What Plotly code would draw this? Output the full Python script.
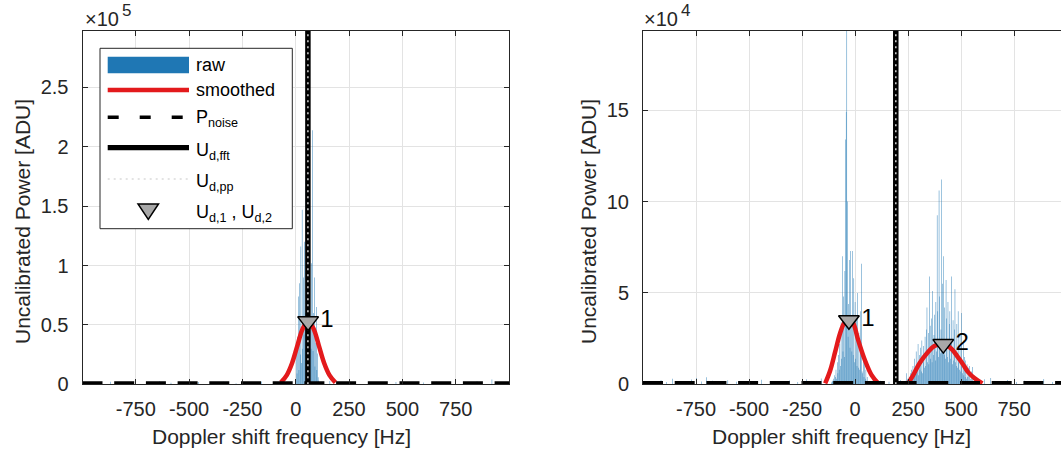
import numpy as np
import plotly.graph_objects as go

W, H = 1061, 454
FONT = "Liberation Sans, Arial, Helvetica, sans-serif"
INK = "#262626"
BLUE = "rgba(31,119,180,0.99)"
RED = "#e31a1c"
GRID = "#e3e3e3"

# ---------------- data (power values in kADU) ----------------
bin_hz = 3.0

# left spectrum: one echo near +58 Hz
left_peak_f0 = 0.0
left_peak_kadu = [4, 26, 9, 40, 74, 12, 85, 25, 116, 18, 147, 30, 90, 42, 120, 60,
                  175, 95, 140, 297.5, 110, 70, 150, 55, 30, 102, 214, 28, 60, 90,
                  15, 35, 65, 12, 26, 6, 3]
left_noise_f = [-985, -930, -870, -815, -760, -700, -640, -585, -520, -455, -400,
                -340, -280, -215, -160, -105, -60, 160, 215, 280, 340, 410, 470,
                530, 600, 660, 720, 790, 850, 920, 975]
left_noise_kadu = [1.5, 0.8, 2.2, 1.1, 1.8, 0.9, 2.5, 1.3, 0.7, 1.9, 1.2, 2.1, 0.8,
                   1.6, 2.4, 1.0, 3.0, 2.8, 1.1, 0.9, 1.7, 1.3, 2.0, 0.8, 1.5, 2.2,
                   1.0, 1.8, 2.6, 4.0, 1.2]
left_smooth_f = [-70, -42, -17, 8, 33, 58, 83, 108, 133, 158, 186]
left_smooth_kadu = [1.5, 7.8, 18, 32.8, 47, 53, 47, 32.8, 18, 7.8, 1.5]
left_pnoise_kadu = 1.0
left_ud_fft = 57.0
left_ud_pp = 57.0
left_peaks_f = [58]
left_peaks_kadu = [53]
left_peak_labels = ["1"]

# right spectrum: two echoes near -30 Hz and +415 Hz
right_peak1_f0 = -111.0
right_peak1_kadu = [1, 2, 1.5, 3, 2, 5, 4, 8, 3, 12, 6, 16, 8, 22, 10, 34, 14, 70,
                    18, 48, 15, 62, 134, 149, 193.3, 100, 26, 44, 68, 20, 73, 32,
                    18, 73, 16, 58, 12, 45, 14, 36, 10, 50, 9, 28, 8, 22, 40, 66,
                    7, 6, 18, 4, 12, 3, 8, 2, 4, 1]
right_peak2_f0 = 240.0
right_peak2_kadu = [2, 6, 1, 3, 2, 4, 3, 6, 2, 8, 3, 10, 4, 14, 5, 8, 18, 6, 9, 22,
                    5, 16, 8, 20, 7, 24, 6, 12, 21, 9, 26, 10, 30, 42, 12, 28,
                    11, 59, 32, 14, 36, 12, 51, 16, 27, 38, 13, 45, 18, 92.5, 40, 15,
                    106, 48, 17, 30, 112, 55, 19, 70, 16, 42, 14, 57, 36, 15, 45, 12,
                    33, 40, 14, 22, 59, 11, 35, 13, 30, 52, 12, 10, 33, 9, 40, 12,
                    8, 27, 7, 39, 10, 6, 24, 5, 15, 4, 13, 3, 11, 4, 9, 2, 10, 3,
                    1.5, 7, 1, 9.5, 2, 1, 4, 0.5, 2, 0.5, 0.5, 1, 0.5, 0.5]
right_noise_f = [-990, -955, -915, -890, -862, -835, -800, -770, -748, -725, -700,
                 -672, -640, -600, -560, -515, -480, -440, -395, -350, -310, -270,
                 -230, -190, -160, 85, 120, 160, 215, 225, 610, 640, 680, 720, 760,
                 800, 845, 890, 930, 965]
right_noise_kadu = [1.0, 1.6, 2.4, 1.3, 3.0, 1.8, 1.2, 2.6, 3.4, 1.5, 3.8, 2.0, 1.1,
                    2.2, 1.4, 0.9, 1.8, 2.5, 1.2, 1.6, 2.1, 1.3, 2.7, 1.7, 3.2, 2.6,
                    1.9, 1.4, 2.3, 1.1, 2.8, 3.5, 1.6, 2.4, 1.2, 2.0, 1.5, 2.9, 1.3,
                    1.8]
right_smooth1_f = [-141, -117, -94, -71, -51, -31, -11, 15, 47, 78, 109]
right_smooth1_kadu = [0.5, 7.7, 17.7, 27.8, 33.5, 35, 33.8, 24, 13, 5, 0.5]
right_smooth2_f = [250, 274, 304, 344, 374, 414, 454, 484, 507, 534, 564, 600]
right_smooth2_kadu = [0.5, 5, 11.5, 17.7, 21, 22, 19.5, 15, 11.3, 6.5, 3.3, 0.5]
right_pnoise_kadu = 0.8
right_ud_fft = 192.0
right_ud_pp = 192.0
right_peaks_f = [-29, 416]
right_peaks_kadu = [35, 22]
right_peak_labels = ["1", "2"]

x_tick_vals = [-750, -500, -250, 0, 250, 500, 750]
x_tick_text = ["-750", "-500", "-250", "0", "250", "500", "750"]
left_y_tick_vals = [0, 50e3, 100e3, 150e3, 200e3, 250e3]
left_y_tick_text = ["0", "0.5", "1", "1.5", "2", "2.5"]
right_y_tick_vals = [0, 50e3, 100e3, 150e3]
right_y_tick_text = ["0", "5", "10", "15"]

# ---------------- assemble series ----------------
def segment(f0, vals):
    return f0 + bin_hz * np.arange(len(vals)), np.asarray(vals, float)

def raw_series(segments, noise_f, noise_v):
    fs = [np.asarray(noise_f, float)]
    vs = [np.asarray(noise_v, float)]
    for f0, vals in segments:
        f, v = segment(f0, vals)
        fs.append(f)
        vs.append(v)
    f = np.concatenate(fs)
    v = np.concatenate(vs) * 1e3
    order = np.argsort(f)
    return f[order], v[order]

lf, lv = raw_series([(left_peak_f0, left_peak_kadu)], left_noise_f, left_noise_kadu)
rf, rv = raw_series([(right_peak1_f0, right_peak1_kadu), (right_peak2_f0, right_peak2_kadu)],
                    right_noise_f, right_noise_kadu)

# pixel helpers for the figure furniture
def px(x):
    return x / W

def py(y):
    return 1 - y / H

Y_DOM = [py(384.3), py(31)]
L_DOM = [px(82.5), px(509)]
R_DOM = [px(643), 1.0]

fig = go.Figure()

def add_panel(xa, ya, f, v, smooth_sets, pnoise, ud_fft, ud_pp, pk_f, pk_v, pk_lab, ymax):
    fig.add_trace(go.Bar(x=f, y=v, width=bin_hz * 0.7, marker=dict(color=BLUE, line=dict(width=0)),
                         xaxis=xa, yaxis=ya, showlegend=False))
    for sf, sv in smooth_sets:
        fig.add_trace(go.Scatter(x=sf, y=np.asarray(sv) * 1e3, mode="lines",
                                 line=dict(color=RED, width=4.5, shape="spline", smoothing=1.0),
                                 xaxis=xa, yaxis=ya, showlegend=False))
    fig.add_trace(go.Scatter(x=[-1000, 1000], y=[pnoise * 1e3] * 2, mode="lines",
                             line=dict(color="black", width=3.5, dash="20px,11.7px"),
                             xaxis=xa, yaxis=ya, showlegend=False))
    fig.add_trace(go.Scatter(x=[ud_fft, ud_fft], y=[0, ymax], mode="lines",
                             line=dict(color="black", width=5.5),
                             xaxis=xa, yaxis=ya, showlegend=False))
    fig.add_trace(go.Scatter(x=[ud_pp, ud_pp], y=[0, ymax], mode="lines",
                             line=dict(color="#c8c8c8", width=1.6, dash="2px,4px"),
                             xaxis=xa, yaxis=ya, showlegend=False))
    fig.add_trace(go.Scatter(x=pk_f, y=np.asarray(pk_v) * 1e3, mode="markers+text",
                             text=pk_lab, textposition="middle right",
                             textfont=dict(family=FONT, size=24, color="black"),
                             marker=dict(symbol="triangle-down", size=18, color="#a8a8a8",
                                         line=dict(color="black", width=1.5)),
                             xaxis=xa, yaxis=ya, showlegend=False, cliponaxis=False))

lmax = float(lv.max())
rmax = float(rv.max())
add_panel("x", "y", lf, lv, [(left_smooth_f, left_smooth_kadu)], left_pnoise_kadu,
          left_ud_fft, left_ud_pp, left_peaks_f, left_peaks_kadu, left_peak_labels, lmax)
add_panel("x2", "y2", rf, rv, [(right_smooth1_f, right_smooth1_kadu), (right_smooth2_f, right_smooth2_kadu)],
          right_pnoise_kadu, right_ud_fft, right_ud_pp, right_peaks_f, right_peaks_kadu,
          right_peak_labels, rmax)

tickfont = dict(family=FONT, size=20, color=INK)
common_x = dict(tickmode="array", tickvals=x_tick_vals, ticktext=x_tick_text, ticks="inside",
                ticklen=5, tickcolor=INK, tickwidth=1, showline=True, linecolor=INK, linewidth=1,
                showgrid=True, gridcolor=GRID, gridwidth=1, zeroline=False, tickfont=tickfont,
                automargin=False, ticklabelstandoff=7)
common_y = dict(tickmode="array", ticks="inside", ticklen=5, tickcolor=INK, tickwidth=1,
                showline=True, linecolor=INK, linewidth=1, showgrid=True, gridcolor=GRID,
                gridwidth=1, zeroline=False, tickfont=tickfont, automargin=False,
                ticklabelstandoff=9)

fig.update_layout(
    width=W, height=H, margin=dict(l=0, r=0, t=0, b=0),
    paper_bgcolor="white", plot_bgcolor="white", showlegend=False, barmode="overlay",
    font=dict(family=FONT, color=INK),
    xaxis=dict(domain=L_DOM, range=[-1000, 1000], anchor="y", mirror="ticks", **common_x),
    yaxis=dict(domain=Y_DOM, range=[0, lmax], anchor="x", mirror="ticks",
               tickvals=left_y_tick_vals, ticktext=left_y_tick_text, **common_y),
    xaxis2=dict(domain=R_DOM, range=[-1000, 971], anchor="y2", mirror="ticks", **common_x),
    yaxis2=dict(domain=Y_DOM, range=[0, rmax], anchor="x2", mirror=False,
                tickvals=right_y_tick_vals, ticktext=right_y_tick_text, **common_y),
)

annotations = []
shapes = []

def text(x, y, s, size, anchor="left", angle=0, color=INK):
    annotations.append(dict(x=px(x), y=py(y), xref="paper", yref="paper", text=s,
                            showarrow=False, xanchor=anchor, yanchor="middle", textangle=angle,
                            font=dict(family=FONT, size=size, color=color)))

# axis titles and exponent labels
for xc in (281, 841):
    text(xc, 436, "Doppler shift frequency [Hz]", 21, anchor="center")
text(22, 222, "Uncalibrated Power [ADU]", 21, anchor="center", angle=-90)
text(588, 222, "Uncalibrated Power [ADU]", 21, anchor="center", angle=-90)
text(83, 19, "×10", 20)
text(120, 11, "5", 17)
text(642, 19, "×10", 20)
text(679, 11, "4", 17)

# legend box
shapes.append(dict(type="rect", xref="paper", yref="paper", x0=px(100), x1=px(292.3),
                   y0=py(228.7), y1=py(48.3), fillcolor="white", line=dict(color=INK, width=1),
                   layer="above"))
shapes.append(dict(type="rect", xref="paper", yref="paper", x0=px(107.7), x1=px(189),
                   y0=py(73.3), y1=py(56.7), fillcolor="#1f77b4", line=dict(width=0), layer="above"))
shapes.append(dict(type="line", xref="paper", yref="paper", x0=px(107.7), x1=px(189),
                   y0=py(90), y1=py(90), line=dict(color=RED, width=4.5), layer="above"))
shapes.append(dict(type="line", xref="paper", yref="paper", x0=px(107.7), x1=px(189),
                   y0=py(117.3), y1=py(117.3), line=dict(color="black", width=3.5, dash="11px,21px"),
                   layer="above"))
shapes.append(dict(type="line", xref="paper", yref="paper", x0=px(107.7), x1=px(189),
                   y0=py(147.7), y1=py(147.7), line=dict(color="black", width=5.3), layer="above"))
shapes.append(dict(type="line", xref="paper", yref="paper", x0=px(107.7), x1=px(189),
                   y0=py(179), y1=py(179), line=dict(color="#c8c8c8", width=1.2, dash="2px,4px"),
                   layer="above"))
tri = "M {:.5f},{:.5f} L {:.5f},{:.5f} L {:.5f},{:.5f} Z".format(
    px(138), py(204), px(158.5), py(204), px(148.3), py(219.5))
shapes.append(dict(type="path", xref="paper", yref="paper", path=tri, fillcolor="#a8a8a8",
                   line=dict(color="black", width=1.5), layer="above"))

text(194.3, 65, "raw", 18, color="black")
text(194.3, 90, "smoothed", 18, color="black")
text(194.3, 119, "P<sub>noise</sub>", 18, color="black")
text(194.3, 151, "U<sub>d,fft</sub>", 18, color="black")
text(194.3, 182, "U<sub>d,pp</sub>", 18, color="black")
text(194.3, 213, "U<sub>d,1</sub> , U<sub>d,2</sub>", 18, color="black")

fig.update_layout(annotations=annotations, shapes=shapes)
fig.write_html("out.html")
